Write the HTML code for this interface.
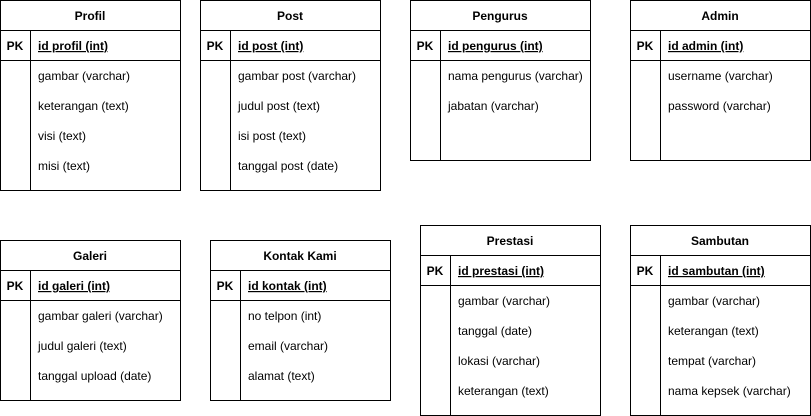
<!DOCTYPE html>
<html><head><meta charset="utf-8"><style>
html,body{margin:0;padding:0;background:#fff;}
svg{display:block;}
text{font-family:"Liberation Sans",Arial,sans-serif;font-size:12px;fill:#000;}
.t{font-weight:bold;text-anchor:middle;}
.pk{font-weight:bold;text-anchor:middle;}
.id{font-weight:bold;text-decoration:underline;}
rect,line{stroke:#000;stroke-width:1;fill:none;}
</style></head><body>
<svg width="811" height="416" viewBox="0 0 811 416" xmlns="http://www.w3.org/2000/svg">
<g transform="translate(0,0)">
<rect x="0.5" y="0.5" width="180" height="190"/><line x1="0" y1="30.5" x2="181" y2="30.5"/><line x1="0" y1="60.5" x2="181" y2="60.5"/><line x1="30.5" y1="30" x2="30.5" y2="191"/>
<text class="t" x="90" y="20">Profil</text><text class="pk" x="15" y="50">PK</text><text class="id" x="38" y="50">id profil (int)</text>
<text x="38" y="80">gambar (varchar)</text><text x="38" y="110">keterangan (text)</text><text x="38" y="140">visi (text)</text><text x="38" y="170">misi (text)</text>
</g>
<g transform="translate(200,0)">
<rect x="0.5" y="0.5" width="180" height="190"/><line x1="0" y1="30.5" x2="181" y2="30.5"/><line x1="0" y1="60.5" x2="181" y2="60.5"/><line x1="30.5" y1="30" x2="30.5" y2="191"/>
<text class="t" x="90" y="20">Post</text><text class="pk" x="15" y="50">PK</text><text class="id" x="38" y="50">id post (int)</text>
<text x="38" y="80">gambar post (varchar)</text><text x="38" y="110">judul post (text)</text><text x="38" y="140">isi post (text)</text><text x="38" y="170">tanggal post (date)</text>
</g>
<g transform="translate(410,0)">
<rect x="0.5" y="0.5" width="180" height="160"/><line x1="0" y1="30.5" x2="181" y2="30.5"/><line x1="0" y1="60.5" x2="181" y2="60.5"/><line x1="30.5" y1="30" x2="30.5" y2="161"/>
<text class="t" x="90" y="20">Pengurus</text><text class="pk" x="15" y="50">PK</text><text class="id" x="38" y="50">id pengurus (int)</text>
<text x="38" y="80">nama pengurus (varchar)</text><text x="38" y="110">jabatan (varchar)</text>
</g>
<g transform="translate(630,0)">
<rect x="0.5" y="0.5" width="180" height="160"/><line x1="0" y1="30.5" x2="181" y2="30.5"/><line x1="0" y1="60.5" x2="181" y2="60.5"/><line x1="30.5" y1="30" x2="30.5" y2="161"/>
<text class="t" x="90" y="20">Admin</text><text class="pk" x="15" y="50">PK</text><text class="id" x="38" y="50">id admin (int)</text>
<text x="38" y="80">username (varchar)</text><text x="38" y="110">password (varchar)</text>
</g>
<g transform="translate(0,240)">
<rect x="0.5" y="0.5" width="180" height="160"/><line x1="0" y1="30.5" x2="181" y2="30.5"/><line x1="0" y1="60.5" x2="181" y2="60.5"/><line x1="30.5" y1="30" x2="30.5" y2="161"/>
<text class="t" x="90" y="20">Galeri</text><text class="pk" x="15" y="50">PK</text><text class="id" x="38" y="50">id galeri (int)</text>
<text x="38" y="80">gambar galeri (varchar)</text><text x="38" y="110">judul galeri (text)</text><text x="38" y="140">tanggal upload (date)</text>
</g>
<g transform="translate(210,240)">
<rect x="0.5" y="0.5" width="180" height="160"/><line x1="0" y1="30.5" x2="181" y2="30.5"/><line x1="0" y1="60.5" x2="181" y2="60.5"/><line x1="30.5" y1="30" x2="30.5" y2="161"/>
<text class="t" x="90" y="20">Kontak Kami</text><text class="pk" x="15" y="50">PK</text><text class="id" x="38" y="50">id kontak (int)</text>
<text x="38" y="80">no telpon (int)</text><text x="38" y="110">email (varchar)</text><text x="38" y="140">alamat (text)</text>
</g>
<g transform="translate(420,225)">
<rect x="0.5" y="0.5" width="180" height="190"/><line x1="0" y1="30.5" x2="181" y2="30.5"/><line x1="0" y1="60.5" x2="181" y2="60.5"/><line x1="30.5" y1="30" x2="30.5" y2="191"/>
<text class="t" x="90" y="20">Prestasi</text><text class="pk" x="15" y="50">PK</text><text class="id" x="38" y="50">id prestasi (int)</text>
<text x="38" y="80">gambar (varchar)</text><text x="38" y="110">tanggal (date)</text><text x="38" y="140">lokasi (varchar)</text><text x="38" y="170">keterangan (text)</text>
</g>
<g transform="translate(630,225)">
<rect x="0.5" y="0.5" width="180" height="190"/><line x1="0" y1="30.5" x2="181" y2="30.5"/><line x1="0" y1="60.5" x2="181" y2="60.5"/><line x1="30.5" y1="30" x2="30.5" y2="191"/>
<text class="t" x="90" y="20">Sambutan</text><text class="pk" x="15" y="50">PK</text><text class="id" x="38" y="50">id sambutan (int)</text>
<text x="38" y="80">gambar (varchar)</text><text x="38" y="110">keterangan (text)</text><text x="38" y="140">tempat (varchar)</text><text x="38" y="170">nama kepsek (varchar)</text>
</g>
</svg>
</body></html>
